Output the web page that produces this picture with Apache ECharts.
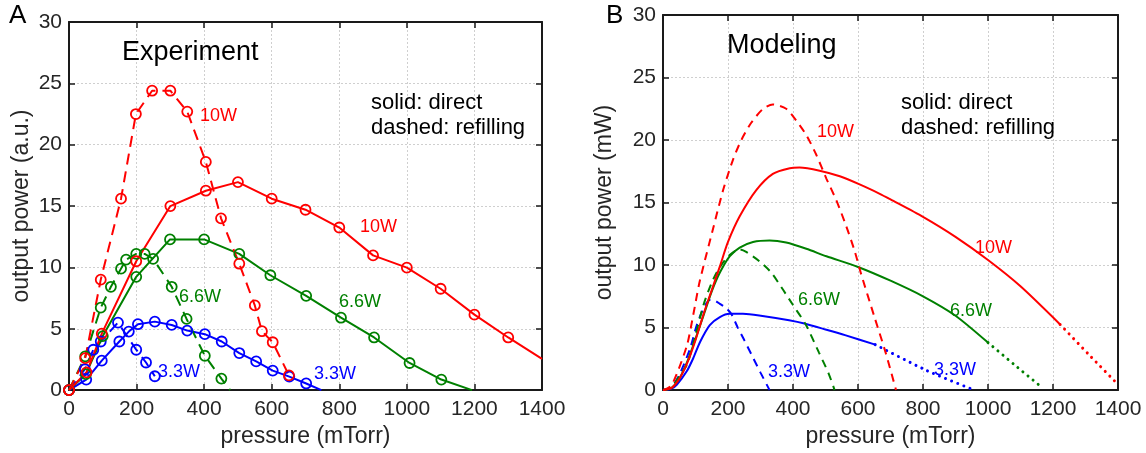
<!DOCTYPE html>
<html>
<head>
<meta charset="utf-8">
<script src="https://cdn.jsdelivr.net/npm/echarts@6/dist/echarts.min.js"></script>
<style>
html,body{margin:0;padding:0;background:#fff;}
#chart{width:1146px;height:453px;}
</style>
</head>
<body>
<div id="chart"></div>
<script>
// ---------------- Axis ticks ----------------
const pressureTicks = [0, 200, 400, 600, 800, 1000, 1200, 1400];
const powerTicks = [0, 5, 10, 15, 20, 25, 30];

// ---------------- Panel A: Experiment ----------------
const exp10DirectX = [0, 52, 97, 199, 300, 405, 500, 600, 700, 800, 900, 1000, 1100, 1200, 1300];
const exp10DirectY = [0, 1.45, 4.6, 10.5, 15.0, 16.25, 16.95, 15.6, 14.7, 13.25, 10.98, 9.98, 8.26, 6.15, 4.29];
const exp10DirectEnd = [1400, 2.55];

const exp10RefillX = [0, 48, 94, 154, 198, 246, 300, 350, 405, 450, 504, 550, 571, 603, 651];
const exp10RefillY = [0, 2.6, 9.0, 15.6, 22.5, 24.4, 24.4, 22.7, 18.6, 14.0, 10.3, 6.9, 4.8, 3.9, 1.2];

const exp66DirectX = [0, 50, 100, 199, 299, 400, 504, 596, 702, 805, 903, 1008, 1102];
const exp66DirectY = [0, 1.3, 4.4, 9.23, 12.28, 12.28, 11.1, 9.36, 7.68, 5.9, 4.29, 2.21, 0.86];
const exp66DirectEnd = [1193, 0];

const exp66RefillX = [0, 48, 94, 124, 154, 169, 199, 224, 249, 304, 348, 402, 451];
const exp66RefillY = [0, 2.75, 6.72, 8.42, 9.9, 10.63, 11.1, 11.1, 10.7, 8.42, 5.8, 2.8, 0.94];
const exp66RefillEnd = [477, 0];

const exp33DirectX = [0, 51, 97, 149, 177, 204, 254, 304, 350, 402, 452, 504, 554, 603, 652, 702];
const exp33DirectY = [0, 0.86, 2.4, 3.96, 4.77, 5.37, 5.58, 5.31, 4.85, 4.56, 3.96, 3.02, 2.34, 1.59, 1.1, 0.54];
const exp33DirectEnd = [747, 0];

const exp33RefillX = [0, 47, 72, 94, 145, 199, 228, 254];
const exp33RefillY = [0, 1.7, 3.29, 3.96, 5.5, 3.29, 2.25, 1.13];

// ---------------- Panel B: Modeling ----------------
const model10DirectX = [0, 25, 50, 75, 100, 125, 150, 175, 200, 236, 287, 338, 390, 420, 482, 544, 605, 667, 700, 800, 900, 1000, 1100, 1222];
const model10DirectY = [0, 0.15, 0.9, 2.2, 4.0, 6.1, 8.0, 9.9, 11.85, 13.9, 16.0, 17.3, 17.75, 17.8, 17.55, 17.1, 16.45, 15.7, 15.25, 13.85, 12.25, 10.4, 8.3, 5.25];
const model10TailX = [1222, 1310, 1400];
const model10TailY = [5.25, 2.85, 0.45];

const model10RefillX = [0, 25, 50, 75, 93, 113, 154, 185, 215, 241, 272, 308, 338, 379, 410, 441, 472, 503, 533, 564, 590, 610, 650, 685, 717];
const model10RefillY = [0, 0.35, 1.8, 3.7, 6.0, 8.7, 12.9, 16.0, 18.4, 20.0, 21.4, 22.5, 22.85, 22.5, 21.55, 20.4, 18.8, 16.9, 15.2, 13.1, 11.1, 9.25, 5.9, 3.0, 0];

const model66DirectX = [0, 25, 50, 75, 100, 125, 150, 175, 205, 236, 277, 328, 379, 441, 503, 600, 700, 800, 900, 1000];
const model66DirectY = [0, 0.15, 0.9, 2.3, 4.1, 6.0, 7.9, 9.4, 10.7, 11.4, 11.85, 11.97, 11.8, 11.3, 10.7, 9.85, 8.75, 7.5, 5.95, 3.8];
const model66TailX = [1000, 1080, 1162];
const model66TailY = [3.8, 2.05, 0.3];

const model66RefillX = [0, 25, 50, 75, 100, 125, 150, 174, 205, 236, 256, 297, 333, 370, 400, 438, 480, 510, 528];
const model66RefillY = [0, 0.2, 1.1, 2.1, 4.4, 6.85, 8.6, 9.8, 10.8, 11.25, 11.05, 10.3, 9.4, 8.0, 6.8, 5.3, 3.0, 1.3, 0];

const model33DirectX = [0, 25, 43, 73, 93, 114, 144, 175, 205, 246, 296, 388, 438, 500, 560, 653];
const model33DirectY = [0, 0.1, 0.45, 1.5, 2.55, 3.85, 5.2, 5.84, 6.1, 6.1, 5.97, 5.58, 5.3, 4.85, 4.4, 3.64];
const model33TailX = [653, 812, 953];
const model33TailY = [3.64, 1.56, 0.05];

const model33RefillX = [0, 25, 50, 83, 104, 124, 144, 160, 175, 192, 210, 230, 250, 275, 300, 328];
const model33RefillY = [0, 0.2, 1.2, 3.3, 5.2, 6.5, 7.2, 7.15, 6.9, 6.6, 6.1, 5.0, 4.0, 2.7, 1.4, 0];

// ---------------- Styling ----------------
const RED = '#ff0000', GREEN = '#008000', BLUE = '#0000ff';
const FONT = "'Liberation Sans', Arial, Helvetica, sans-serif";
const TXT = '#262626';

function pairs(xs, ys) { return xs.map((x, i) => [x, ys[i]]); }

function axisPair(gridIndex, nameX, nameY, yNameGap) {
  const common = {
    gridIndex, type: 'value',
    axisLine: { show: true, onZero: false, lineStyle: { color: '#1a1a1a', width: 2 } },
    axisTick: { show: true, inside: true, length: 6, lineStyle: { color: '#1a1a1a', width: 1.5 } }
  };
  const plain = v => String(v);
  const xb = Object.assign({}, common, {
    position: 'bottom', min: pressureTicks[0], max: pressureTicks[pressureTicks.length - 1], interval: pressureTicks[1] - pressureTicks[0],
    axisLabel: { fontSize: 21, color: TXT, fontFamily: FONT, margin: 9, formatter: plain },
    splitLine: { show: true, lineStyle: { type: [2, 2], color: '#cfcfcf', width: 1 } },
    name: nameX, nameLocation: 'middle', nameGap: 31,
    nameTextStyle: { fontSize: 23, color: TXT, fontFamily: FONT }
  });
  const xt = Object.assign({}, common, {
    position: 'top', min: pressureTicks[0], max: pressureTicks[pressureTicks.length - 1], interval: pressureTicks[1] - pressureTicks[0],
    axisLabel: { show: false }, splitLine: { show: false }
  });
  const yl = Object.assign({}, common, {
    position: 'left', min: powerTicks[0], max: powerTicks[powerTicks.length - 1], interval: powerTicks[1] - powerTicks[0],
    axisLabel: { fontSize: 21, color: TXT, fontFamily: FONT, margin: 7, formatter: plain },
    splitLine: { show: true, lineStyle: { type: [2, 2], color: '#cfcfcf', width: 1 } },
    name: nameY, nameLocation: 'middle', nameGap: yNameGap, nameRotate: 90,
    nameTextStyle: { fontSize: 23, color: TXT, fontFamily: FONT }
  });
  const yr = Object.assign({}, common, {
    position: 'right', min: powerTicks[0], max: powerTicks[powerTicks.length - 1], interval: powerTicks[1] - powerTicks[0],
    axisLabel: { show: false }, splitLine: { show: false }
  });
  return { x: [xb, xt], y: [yl, yr] };
}

const axA = axisPair(0, 'pressure (mTorr)', 'output power (a.u.)', 36);
const axB = axisPair(1, 'pressure (mTorr)', 'output power (mW)', 47);

function expSeries(xs, ys, end, color, dash, axisIdx) {
  const data = pairs(xs, ys);
  if (end) data.push({ value: end, symbol: 'none' });
  return {
    type: 'line', xAxisIndex: axisIdx, yAxisIndex: axisIdx, data,
    symbol: 'circle', symbolSize: 10, showSymbol: true,
    itemStyle: { color: 'rgba(255,255,255,0)', borderColor: color, borderWidth: 1.8 },
    lineStyle: { color, width: 2, type: dash ? [11, 7] : 'solid' },
    emphasis: { disabled: true }, silent: true, clip: true, z: 3
  };
}

function modelSeries(xs, ys, color, style, axisIdx) {
  let type = 'solid', width = 2, cap = 'butt';
  if (style === 'dashed') { type = [8, 6]; }
  if (style === 'dotted') { type = [0.01, 6.5]; width = 3; cap = 'round'; }
  return {
    type: 'line', xAxisIndex: axisIdx, yAxisIndex: axisIdx, data: pairs(xs, ys),
    symbol: 'none', smooth: 0.25,
    lineStyle: { color, width, type, cap },
    emphasis: { disabled: true }, silent: true, clip: true, z: 3
  };
}

function label(text, x, baseline, size, color) {
  return {
    type: 'text', x: x, y: baseline - 0.34 * size,
    style: { text, fill: color, font: size + 'px ' + FONT, textVerticalAlign: 'middle', verticalAlign: 'middle' },
    silent: true, z: 10
  };
}

const option = {
  animation: false,
  backgroundColor: '#ffffff',
  grid: [
    { left: 69, top: 22, width: 473, height: 370 },
    { left: 663, top: 15, width: 455, height: 385 }
  ],
  xAxis: [axA.x[0], axA.x[1], axB.x[0], axB.x[1]],
  yAxis: [axA.y[0], axA.y[1], axB.y[0], axB.y[1]],
  series: [
    expSeries(exp33DirectX, exp33DirectY, exp33DirectEnd, BLUE, false, 0),
    expSeries(exp33RefillX, exp33RefillY, null, BLUE, true, 0),
    expSeries(exp66DirectX, exp66DirectY, exp66DirectEnd, GREEN, false, 0),
    expSeries(exp66RefillX, exp66RefillY, exp66RefillEnd, GREEN, true, 0),
    expSeries(exp10DirectX, exp10DirectY, exp10DirectEnd, RED, false, 0),
    expSeries(exp10RefillX, exp10RefillY, null, RED, true, 0),

    modelSeries(model33DirectX, model33DirectY, BLUE, 'solid', 2),
    modelSeries(model33TailX, model33TailY, BLUE, 'dotted', 2),
    modelSeries(model33RefillX, model33RefillY, BLUE, 'dashed', 2),
    modelSeries(model66DirectX, model66DirectY, GREEN, 'solid', 2),
    modelSeries(model66TailX, model66TailY, GREEN, 'dotted', 2),
    modelSeries(model66RefillX, model66RefillY, GREEN, 'dashed', 2),
    modelSeries(model10DirectX, model10DirectY, RED, 'solid', 2),
    modelSeries(model10TailX, model10TailY, RED, 'dotted', 2),
    modelSeries(model10RefillX, model10RefillY, RED, 'dashed', 2)
  ],
  graphic: [
    label('A', 9, 25, 26, '#000'),
    label('B', 606, 25, 26, '#000'),
    label('Experiment', 122, 62, 27, '#000'),
    label('Modeling', 727, 55, 27, '#000'),
    label('solid: direct', 371, 110, 22, '#000'),
    label('dashed: refilling', 371, 135, 22, '#000'),
    label('solid: direct', 901, 110, 22, '#000'),
    label('dashed: refilling', 901, 135, 22, '#000'),

    label('10W', 200, 122, 18, RED),
    label('10W', 360, 233, 18, RED),
    label('6.6W', 179, 303, 18, GREEN),
    label('6.6W', 339, 308, 18, GREEN),
    label('3.3W', 158, 378, 18, BLUE),
    label('3.3W', 314, 380, 18, BLUE),

    label('10W', 817, 138, 18, RED),
    label('10W', 975, 254, 18, RED),
    label('6.6W', 798, 306, 18, GREEN),
    label('6.6W', 950, 317, 18, GREEN),
    label('3.3W', 768, 378, 18, BLUE),
    label('3.3W', 934, 376, 18, BLUE)
  ]
};

const chart = echarts.init(document.getElementById('chart'), null, { renderer: 'canvas' });
chart.setOption(option);
</script>
</body>
</html>
